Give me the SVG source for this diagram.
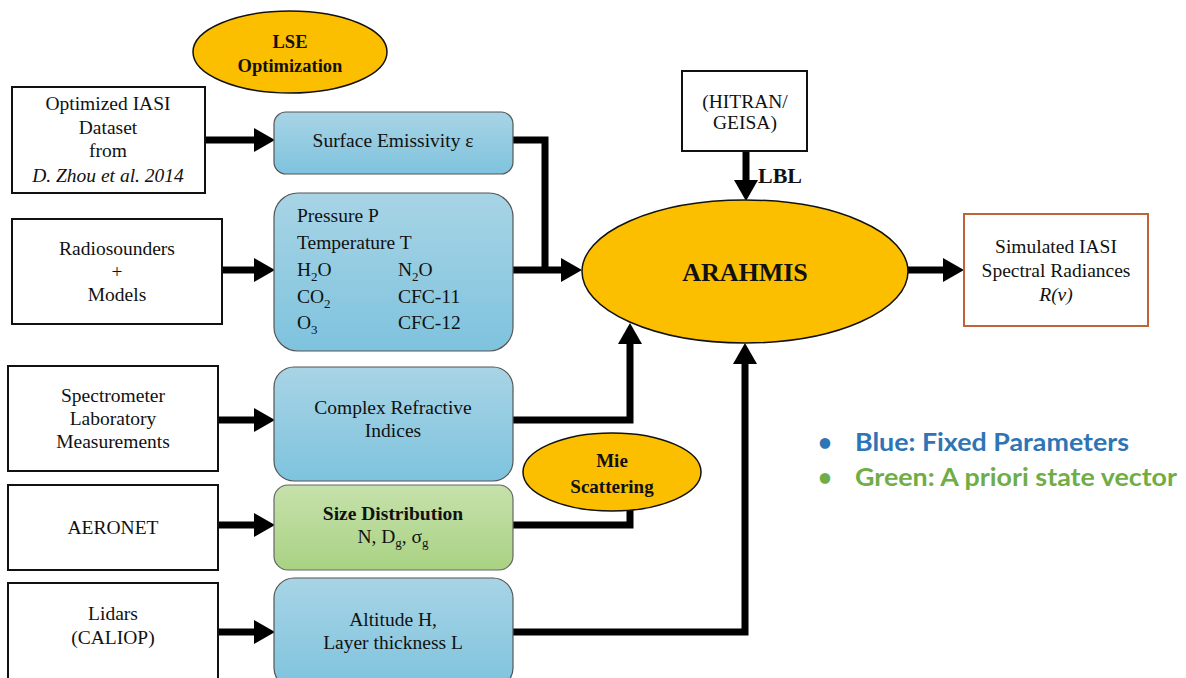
<svg xmlns="http://www.w3.org/2000/svg" width="1186" height="678" viewBox="0 0 1186 678">
<defs>
<linearGradient id="gb" x1="0" y1="0" x2="0" y2="1"><stop offset="0" stop-color="#a8d4e5"/><stop offset="1" stop-color="#7ec3de"/></linearGradient>
<linearGradient id="gg" x1="0" y1="0" x2="0" y2="1"><stop offset="0" stop-color="#c6e1ab"/><stop offset="1" stop-color="#a9d283"/></linearGradient>
<marker id="ah" markerUnits="userSpaceOnUse" markerWidth="22" markerHeight="24" refX="0" refY="12" orient="auto"><path d="M0,0 L21,12 L0,24 z" fill="#000"/></marker>
<style>
.t{font-family:"Liberation Serif","DejaVu Serif",serif;font-size:19.5px;fill:#111;text-anchor:middle}
.l{text-anchor:start}
.tb{font-family:"Liberation Serif","DejaVu Serif",serif;font-weight:bold;fill:#111;text-anchor:middle}
.src{fill:#fff;stroke:#111;stroke-width:2}
.blue{fill:url(#gb);stroke:#555;stroke-width:1.2}
.green{fill:url(#gg);stroke:#666;stroke-width:1.2}
.ell{fill:#fcbf00;stroke:#111;stroke-width:1.5}
.c{fill:none;stroke:#000;stroke-width:7}
.a{fill:none;stroke:#000;stroke-width:7;marker-end:url(#ah)}
.leg{font-family:Lato,"Open Sans",sans-serif;font-weight:bold;font-size:24px}
</style>
</defs>

<g id="connectors">
<path class="a" d="M205,140 H254"/>
<path class="c" d="M513,140 H545 V270"/>
<path class="a" d="M513,270 H561"/>
<path class="a" d="M222,270 H254"/>
<path class="a" d="M218,420 H254"/>
<path class="a" d="M513,420 H630 V344"/>
<path class="c" d="M513,525 H630 V505"/>
<path class="a" d="M218,525 H254"/>
<path class="a" d="M218,632 H254"/>
<path class="a" d="M513,632 H745 V364"/>
<path class="a" d="M746,151 V180"/>
<path class="a" d="M906,270 H943"/>
</g>

<g id="lse"><ellipse class="ell" cx="290" cy="52" rx="97" ry="41"/><text class="tb" x="290" y="48" font-size="18.5">LSE</text><text class="tb" x="290" y="72" font-size="18.5">Optimization</text></g>

<g id="src-iasi"><rect class="src" x="12" y="87" width="193" height="106"/>
<text class="t" x="108" y="110">Optimized IASI</text><text class="t" x="108" y="134">Dataset</text><text class="t" x="108" y="157">from</text><text class="t" x="108" y="182" font-style="italic">D. Zhou et al. 2014</text></g>

<g id="src-radio"><rect class="src" x="12" y="219" width="210" height="105"/>
<text class="t" x="117" y="255">Radiosounders</text><text class="t" x="117" y="278">+</text><text class="t" x="117" y="301">Models</text></g>

<g id="src-spectro"><rect class="src" x="8" y="366" width="210" height="105"/>
<text class="t" x="113" y="402">Spectrometer</text><text class="t" x="113" y="425">Laboratory</text><text class="t" x="113" y="448">Measurements</text></g>

<g id="src-aeronet"><rect class="src" x="8" y="485" width="210" height="85"/>
<text class="t" x="113" y="534">AERONET</text></g>

<g id="src-lidar"><rect class="src" x="8" y="583" width="210" height="100"/>
<text class="t" x="113" y="620">Lidars</text><text class="t" x="113" y="644">(CALIOP)</text></g>

<g id="p-emis"><rect class="blue" x="274" y="112" width="239" height="62" rx="12"/>
<text class="t" x="393" y="147">Surface Emissivity ε</text></g>

<g id="p-gas"><rect class="blue" x="274" y="193" width="239" height="158" rx="24"/>
<text class="t l" x="297" y="222">Pressure P</text>
<text class="t l" x="297" y="249">Temperature T</text>
<text class="t l" x="297" y="276">H<tspan font-size="13" dy="5">2</tspan><tspan dy="-5">O</tspan></text>
<text class="t l" x="297" y="303">CO<tspan font-size="13" dy="5">2</tspan></text>
<text class="t l" x="297" y="329">O<tspan font-size="13" dy="5">3</tspan></text>
<text class="t l" x="398" y="276">N<tspan font-size="13" dy="5">2</tspan><tspan dy="-5">O</tspan></text>
<text class="t l" x="398" y="303">CFC-11</text>
<text class="t l" x="398" y="329">CFC-12</text>
</g>

<g id="p-cri"><rect class="blue" x="274" y="367" width="239" height="114" rx="20"/>
<text class="t" x="393" y="414">Complex Refractive</text><text class="t" x="393" y="437">Indices</text></g>

<g id="p-size"><rect class="green" x="274" y="485" width="239" height="85" rx="14"/>
<text class="tb" x="393" y="520" font-size="19.5">Size Distribution</text>
<text class="t" x="393" y="543">N, D<tspan font-size="13" dy="4">g</tspan><tspan dy="-4">, σ</tspan><tspan font-size="13" dy="4">g</tspan></text></g>

<g id="p-alt"><rect class="blue" x="274" y="578" width="239" height="110" rx="20"/>
<text class="t" x="393" y="626">Altitude H,</text><text class="t" x="393" y="649">Layer thickness L</text></g>

<g id="mie"><ellipse class="ell" cx="612" cy="472" rx="89" ry="39"/><text class="tb" x="612" y="467" font-size="19">Mie</text><text class="tb" x="612" y="493" font-size="19">Scattering</text></g>

<g id="hitran"><rect class="src" x="682" y="71" width="125" height="80"/>
<text class="t" x="745" y="108" font-size="17">(HITRAN/</text><text class="t" x="745" y="129" font-size="17">GEISA)</text></g>
<text class="tb" x="758" y="183" font-size="22" style="text-anchor:start">LBL</text>

<g id="arahmis"><ellipse class="ell" cx="745" cy="271.5" rx="163" ry="71.5"/><text class="tb" x="745" y="281" font-size="26">ARAHMIS</text></g>

<g id="output"><rect x="964" y="214" width="184" height="112" fill="#fff" stroke="#c0623a" stroke-width="2"/>
<text class="t" x="1056" y="253">Simulated IASI</text><text class="t" x="1056" y="277">Spectral Radiances</text><text class="t" x="1056" y="301" font-style="italic">R(ν)</text></g>

<g id="legend">
<text class="leg" x="818" y="451" fill="#2e75b6">•</text>
<text class="leg" x="855" y="451" fill="#2e75b6" textLength="274" lengthAdjust="spacingAndGlyphs">Blue: Fixed Parameters</text>
<text class="leg" x="818" y="486" fill="#70ad47">•</text>
<text class="leg" x="855" y="486" fill="#70ad47" textLength="322" lengthAdjust="spacingAndGlyphs">Green: A priori state vector</text>
</g>
</svg>
